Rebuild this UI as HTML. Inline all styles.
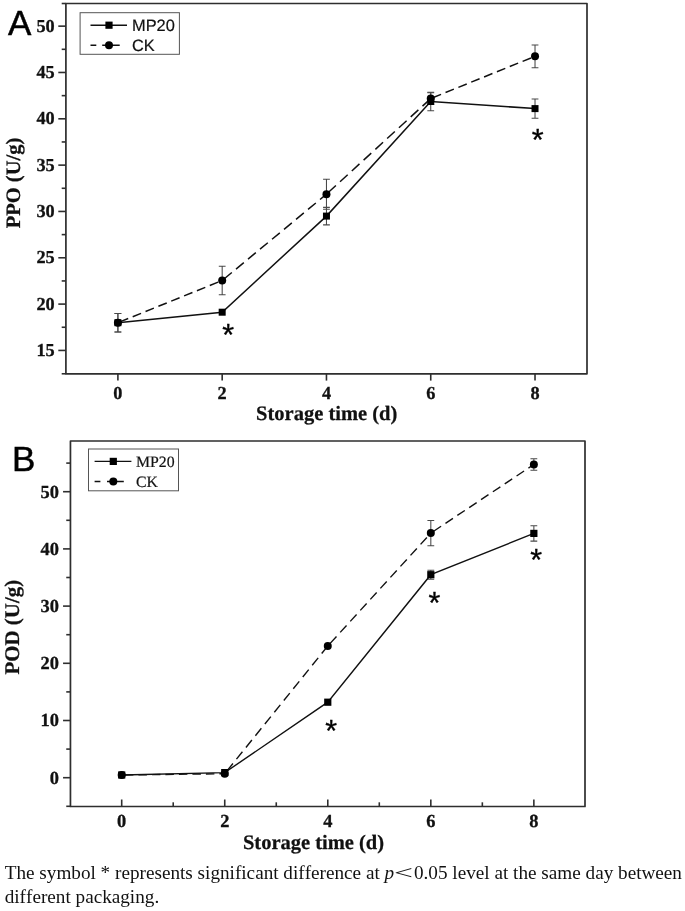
<!DOCTYPE html>
<html lang="en">
<head>
<meta charset="utf-8">
<title>PPO and POD activity</title>
<style>
html,body{margin:0;padding:0;background:#fff;}
body{width:685px;height:911px;position:relative;overflow:hidden;font-family:"Liberation Serif",serif;}
svg{position:absolute;left:0;top:0;display:block;filter:blur(0.35px);}
svg text{text-rendering:geometricPrecision;}
.tk{stroke:#2e2e2e;stroke-width:1.6;}
.tl{font:bold 18.3px "Liberation Serif",serif;fill:#111;stroke:#111;stroke-width:0.3px;}
.al{font:bold 20.5px "Liberation Serif",serif;fill:#111;stroke:#111;stroke-width:0.25px;}
.tlB{font-size:18.4px;}
.alB{font-size:20.9px;}
.pl{font:35px "Liberation Sans",sans-serif;fill:#000;stroke:#000;stroke-width:0.5px;}
.as{font:30.5px "Liberation Sans",sans-serif;fill:#000;stroke:#000;stroke-width:0.35;}
.lgA{font:16.4px "Liberation Sans",sans-serif;fill:#111;stroke:#111;stroke-width:0.2px;}
.lgB{font:15.8px "Liberation Serif",serif;fill:#111;stroke:#111;stroke-width:0.2px;}
.ln{stroke:#111;stroke-width:1.5;fill:none;}
.ds{stroke-dasharray:8.5 8.5;}
.lnB{stroke:#111;stroke-width:1.4;fill:none;}
.dsB{stroke-dasharray:7.5 8;}
.eb{stroke:#484848;stroke-width:1.05;fill:none;}
.cap{position:absolute;left:4.7px;top:861.2px;width:676.6px;margin:0;font:19.2px/24px "Liberation Serif",serif;color:#111;white-space:nowrap;filter:blur(0.3px);font-variant-ligatures:none;font-kerning:none;}
.l1{word-spacing:0px;}
.cap i{font-style:italic;}
.lt{display:inline-block;transform:scaleX(1.75);transform-origin:left center;width:19.8px;}
</style>
</head>
<body>
<svg width="685" height="911" viewBox="0 0 685 911">
<rect x="65.9" y="3.5" width="521.1" height="370.3" fill="none" stroke="#2e2e2e" stroke-width="1.7" stroke-linejoin="round"/>
<line x1="58.3" y1="350.43" x2="65.9" y2="350.43" class="tk"/>
<text x="54.7" y="355.93" class="tl" text-anchor="end">15</text>
<line x1="58.3" y1="304.1" x2="65.9" y2="304.1" class="tk"/>
<text x="54.7" y="309.6" class="tl" text-anchor="end">20</text>
<line x1="58.3" y1="257.77" x2="65.9" y2="257.77" class="tk"/>
<text x="54.7" y="263.27" class="tl" text-anchor="end">25</text>
<line x1="58.3" y1="211.45" x2="65.9" y2="211.45" class="tk"/>
<text x="54.7" y="216.95" class="tl" text-anchor="end">30</text>
<line x1="58.3" y1="165.13" x2="65.9" y2="165.13" class="tk"/>
<text x="54.7" y="170.63" class="tl" text-anchor="end">35</text>
<line x1="58.3" y1="118.8" x2="65.9" y2="118.8" class="tk"/>
<text x="54.7" y="124.3" class="tl" text-anchor="end">40</text>
<line x1="58.3" y1="72.47" x2="65.9" y2="72.47" class="tk"/>
<text x="54.7" y="77.97" class="tl" text-anchor="end">45</text>
<line x1="58.3" y1="26.15" x2="65.9" y2="26.15" class="tk"/>
<text x="54.7" y="31.65" class="tl" text-anchor="end">50</text>
<line x1="61.7" y1="373.77" x2="65.9" y2="373.77" class="tk"/>
<line x1="61.7" y1="327.26" x2="65.9" y2="327.26" class="tk"/>
<line x1="61.7" y1="280.94" x2="65.9" y2="280.94" class="tk"/>
<line x1="61.7" y1="234.61" x2="65.9" y2="234.61" class="tk"/>
<line x1="61.7" y1="188.29" x2="65.9" y2="188.29" class="tk"/>
<line x1="61.7" y1="141.96" x2="65.9" y2="141.96" class="tk"/>
<line x1="61.7" y1="95.64" x2="65.9" y2="95.64" class="tk"/>
<line x1="61.7" y1="49.31" x2="65.9" y2="49.31" class="tk"/>
<line x1="61.7" y1="3.51" x2="65.9" y2="3.51" class="tk"/>
<line x1="117.9" y1="373.8" x2="117.9" y2="380.6" class="tk"/>
<text x="117.9" y="398.6" class="tl" text-anchor="middle">0</text>
<line x1="222.18" y1="373.8" x2="222.18" y2="380.6" class="tk"/>
<text x="222.18" y="398.6" class="tl" text-anchor="middle">2</text>
<line x1="326.46" y1="373.8" x2="326.46" y2="380.6" class="tk"/>
<text x="326.46" y="398.6" class="tl" text-anchor="middle">4</text>
<line x1="430.74" y1="373.8" x2="430.74" y2="380.6" class="tk"/>
<text x="430.74" y="398.6" class="tl" text-anchor="middle">6</text>
<line x1="535.02" y1="373.8" x2="535.02" y2="380.6" class="tk"/>
<text x="535.02" y="398.6" class="tl" text-anchor="middle">8</text>
<text x="326.7" y="420.2" class="al" text-anchor="middle">Storage time (d)</text>
<text transform="translate(20.2,183) rotate(-90)" class="al" text-anchor="middle">PPO (U/g)</text>
<text x="8" y="35.2" class="pl">A</text>
<path d="M117.9 313.4V332M114.5 313.4H121.3M114.5 332H121.3" class="eb"/>
<path d="M326.46 207.35V224.85M323.06 207.35H329.86M323.06 224.85H329.86" class="eb"/>
<path d="M430.74 92.2V110.8M427.34 92.2H434.14M427.34 110.8H434.14" class="eb"/>
<path d="M535.02 99V118.2M531.62 99H538.42M531.62 118.2H538.42" class="eb"/>
<path d="M117.9 313.4V332M114.5 313.4H121.3M114.5 332H121.3" class="eb"/>
<path d="M222.18 266.2V294.8M218.78 266.2H225.58M218.78 294.8H225.58" class="eb"/>
<path d="M326.46 179.2V209.2M323.06 179.2H329.86M323.06 209.2H329.86" class="eb"/>
<path d="M430.74 92.7V104.4M427.34 92.7H434.14M427.34 104.4H434.14" class="eb"/>
<path d="M535.02 44.9V67.7M531.62 44.9H538.42M531.62 67.7H538.42" class="eb"/>
<polyline class="ln" points="117.9,322.7 222.18,312.2 326.46,216.1 430.74,101.5 535.02,108.6"/>
<path class="ln" d="M119.85 321.91L128.2 318.53M132.7 316.71L141.05 313.33M145.55 311.51L153.9 308.13M158.39 306.31L166.74 302.93M171.24 301.11L179.59 297.74M184.09 295.92L192.44 292.54M196.93 290.72L205.28 287.34M209.78 285.52L218.13 282.14M224.01 278.99L231.81 272.53M236.01 269.06L243.81 262.6M248.01 259.12L255.82 252.66M260.02 249.19L267.82 242.73M272.02 239.25L279.82 232.8M284.02 229.32L291.83 222.86M296.03 219.39L303.83 212.93M308.03 209.45L315.83 202.99M320.04 199.52L326.46 194.2M328.25 192.56L335.91 185.53M340.03 181.75L347.69 174.73M351.81 170.94L359.47 163.92M363.6 160.14L371.25 153.11M375.38 149.33L383.04 142.31M387.16 138.52L394.82 131.5M398.94 127.72L406.6 120.69M410.72 116.91L418.38 109.89M422.5 106.11L430.16 99.08M432.69 97.76L441.04 94.38M445.54 92.55L453.89 89.17M458.38 87.35L466.73 83.97M471.23 82.14L479.58 78.76M484.08 76.94L492.43 73.56M496.92 71.74L505.27 68.35M509.77 66.53L518.12 63.15M522.61 61.33L530.96 57.94"/>
<rect x="114.4" y="319.2" width="7" height="7" fill="#000"/>
<rect x="218.68" y="308.7" width="7" height="7" fill="#000"/>
<rect x="322.96" y="212.6" width="7" height="7" fill="#000"/>
<rect x="427.24" y="98" width="7" height="7" fill="#000"/>
<rect x="531.52" y="105.1" width="7" height="7" fill="#000"/>
<circle cx="117.9" cy="322.7" r="4" fill="#000"/>
<circle cx="222.18" cy="280.5" r="4" fill="#000"/>
<circle cx="326.46" cy="194.2" r="4" fill="#000"/>
<circle cx="430.74" cy="98.55" r="4" fill="#000"/>
<circle cx="535.02" cy="56.3" r="4" fill="#000"/>
<text x="228.2" y="344.7" class="as" text-anchor="middle">*</text>
<text x="537.8" y="150.3" class="as" text-anchor="middle">*</text>
<rect x="80.1" y="12.7" width="99.3" height="41.6" fill="#fff" stroke="#555" stroke-width="1"/>
<line x1="90.5" y1="25.2" x2="127" y2="25.2" class="ln"/>
<rect x="105.4" y="21.6" width="7.2" height="7.2" fill="#000"/>
<path d="M90.5 45.3h5.8M102.2 45.3h17.5" class="ln"/>
<circle cx="109" cy="45.3" r="4" fill="#000"/>
<text x="132" y="31" class="lgA">MP20</text>
<text x="132" y="50.8" class="lgA">CK</text>
<rect x="70.45" y="441.0" width="514.55" height="365.5" fill="none" stroke="#2e2e2e" stroke-width="1.7" stroke-linejoin="round"/>
<line x1="63.05" y1="777.7" x2="70.45" y2="777.7" class="tk"/>
<text x="58.9" y="783.6" class="tl tlB" text-anchor="end">0</text>
<line x1="63.05" y1="720.5" x2="70.45" y2="720.5" class="tk"/>
<text x="58.9" y="726.4" class="tl tlB" text-anchor="end">10</text>
<line x1="63.05" y1="663.3" x2="70.45" y2="663.3" class="tk"/>
<text x="58.9" y="669.2" class="tl tlB" text-anchor="end">20</text>
<line x1="63.05" y1="606.1" x2="70.45" y2="606.1" class="tk"/>
<text x="58.9" y="612" class="tl tlB" text-anchor="end">30</text>
<line x1="63.05" y1="548.9" x2="70.45" y2="548.9" class="tk"/>
<text x="58.9" y="554.8" class="tl tlB" text-anchor="end">40</text>
<line x1="63.05" y1="491.7" x2="70.45" y2="491.7" class="tk"/>
<text x="58.9" y="497.6" class="tl tlB" text-anchor="end">50</text>
<line x1="66.25" y1="806.3" x2="70.45" y2="806.3" class="tk"/>
<line x1="66.25" y1="749.1" x2="70.45" y2="749.1" class="tk"/>
<line x1="66.25" y1="691.9" x2="70.45" y2="691.9" class="tk"/>
<line x1="66.25" y1="634.7" x2="70.45" y2="634.7" class="tk"/>
<line x1="66.25" y1="577.5" x2="70.45" y2="577.5" class="tk"/>
<line x1="66.25" y1="520.3" x2="70.45" y2="520.3" class="tk"/>
<line x1="66.25" y1="463.1" x2="70.45" y2="463.1" class="tk"/>
<line x1="121.7" y1="806.5" x2="121.7" y2="799.5" class="tk"/>
<text x="121.7" y="827" class="tl tlB" text-anchor="middle">0</text>
<line x1="224.74" y1="806.5" x2="224.74" y2="799.5" class="tk"/>
<text x="224.74" y="827" class="tl tlB" text-anchor="middle">2</text>
<line x1="327.78" y1="806.5" x2="327.78" y2="799.5" class="tk"/>
<text x="327.78" y="827" class="tl tlB" text-anchor="middle">4</text>
<line x1="430.82" y1="806.5" x2="430.82" y2="799.5" class="tk"/>
<text x="430.82" y="827" class="tl tlB" text-anchor="middle">6</text>
<line x1="533.86" y1="806.5" x2="533.86" y2="799.5" class="tk"/>
<text x="533.86" y="827" class="tl tlB" text-anchor="middle">8</text>
<line x1="173.22" y1="806.5" x2="173.22" y2="802.3" class="tk"/>
<line x1="276.26" y1="806.5" x2="276.26" y2="802.3" class="tk"/>
<line x1="379.3" y1="806.5" x2="379.3" y2="802.3" class="tk"/>
<line x1="482.34" y1="806.5" x2="482.34" y2="802.3" class="tk"/>
<text x="313.5" y="849" class="al" text-anchor="middle">Storage time (d)</text>
<text transform="translate(19,627.2) rotate(-90)" class="al alB" text-anchor="middle">POD (U/g)</text>
<text x="12" y="471" class="pl">B</text>
<path d="M430.82 570.2V579.2M427.42 570.2H434.22M427.42 579.2H434.22" class="eb"/>
<path d="M533.86 525.7V541.1M530.46 525.7H537.26M530.46 541.1H537.26" class="eb"/>
<path d="M430.82 520.5V545.7M427.42 520.5H434.22M427.42 545.7H434.22" class="eb"/>
<path d="M533.86 458.7V470.3M530.46 458.7H537.26M530.46 470.3H537.26" class="eb"/>
<polyline class="lnB" points="121.7,775 224.74,772.6 327.78,702.2 430.82,574.7 533.86,533.4"/>
<path class="lnB" d="M124.9 774.96L133.4 774.85M138.4 774.79L146.9 774.68M151.9 774.62L160.4 774.51M165.4 774.45L173.9 774.34M178.9 774.28L187.4 774.17M192.4 774.11L200.9 774M205.9 773.94L214.4 773.83M219.39 773.77L224.74 773.7M226.98 770.92L232.95 763.52M236.46 759.18L242.42 751.79M245.93 747.44L251.89 740.05M255.4 735.71L261.36 728.31M264.87 723.97L270.83 716.57M274.34 712.23L280.3 704.84M283.81 700.49L289.78 693.1M293.28 688.76L299.25 681.36M302.75 677.02L308.72 669.63M312.22 665.28L318.19 657.89M321.69 653.55L327.66 646.15M330.16 643.39L336.49 636.46M340.2 632.39L346.53 625.45M350.25 621.38L356.58 614.45M360.29 610.38L366.62 603.44M370.34 599.37L376.66 592.44M380.38 588.37L386.71 581.43M390.42 577.36L396.75 570.43M400.47 566.36L406.8 559.42M410.51 555.35L416.84 548.42M420.56 544.35L426.88 537.41M430.6 533.34L430.82 533.1M433.63 531.23L441.09 526.26M445.48 523.34L452.95 518.37M457.33 515.45L464.8 510.48M469.18 507.56L476.65 502.59M481.03 499.67L488.5 494.7M492.88 491.78L500.35 486.81M504.73 483.89L512.2 478.92M516.58 476L524.05 471.03M528.43 468.11L533.86 464.5"/>
<rect x="118.1" y="771.4" width="7.2" height="7.2" fill="#000"/>
<rect x="221.14" y="769" width="7.2" height="7.2" fill="#000"/>
<rect x="324.18" y="698.6" width="7.2" height="7.2" fill="#000"/>
<rect x="427.22" y="571.1" width="7.2" height="7.2" fill="#000"/>
<rect x="530.26" y="529.8" width="7.2" height="7.2" fill="#000"/>
<circle cx="121.7" cy="775" r="4" fill="#000"/>
<circle cx="224.74" cy="773.7" r="4" fill="#000"/>
<circle cx="327.78" cy="646" r="4" fill="#000"/>
<circle cx="430.82" cy="533.1" r="4" fill="#000"/>
<circle cx="533.86" cy="464.5" r="4" fill="#000"/>
<text x="331.2" y="741.2" class="as" text-anchor="middle">*</text>
<text x="434.4" y="612.7" class="as" text-anchor="middle">*</text>
<text x="536.1" y="570.2" class="as" text-anchor="middle">*</text>
<rect x="88.5" y="449" width="90" height="41.8" fill="#fff" stroke="#555" stroke-width="1"/>
<line x1="94.6" y1="461.4" x2="131.4" y2="461.4" class="lnB"/>
<rect x="109.7" y="457.8" width="7.2" height="7.2" fill="#000"/>
<path d="M94.6 481.5h5.8M107 481.5h16.8" class="lnB"/>
<circle cx="113.3" cy="481.5" r="4" fill="#000"/>
<text x="136" y="466.5" class="lgB">MP20</text>
<text x="136" y="486.6" class="lgB">CK</text>
</svg>
<p class="cap"><span class="l1">The symbol * represents significant difference at <i>p</i><span class="lt">&lt;</span>0.05 level at the same day between</span><br><span class="l2">different packaging.</span></p>
</body>
</html>
